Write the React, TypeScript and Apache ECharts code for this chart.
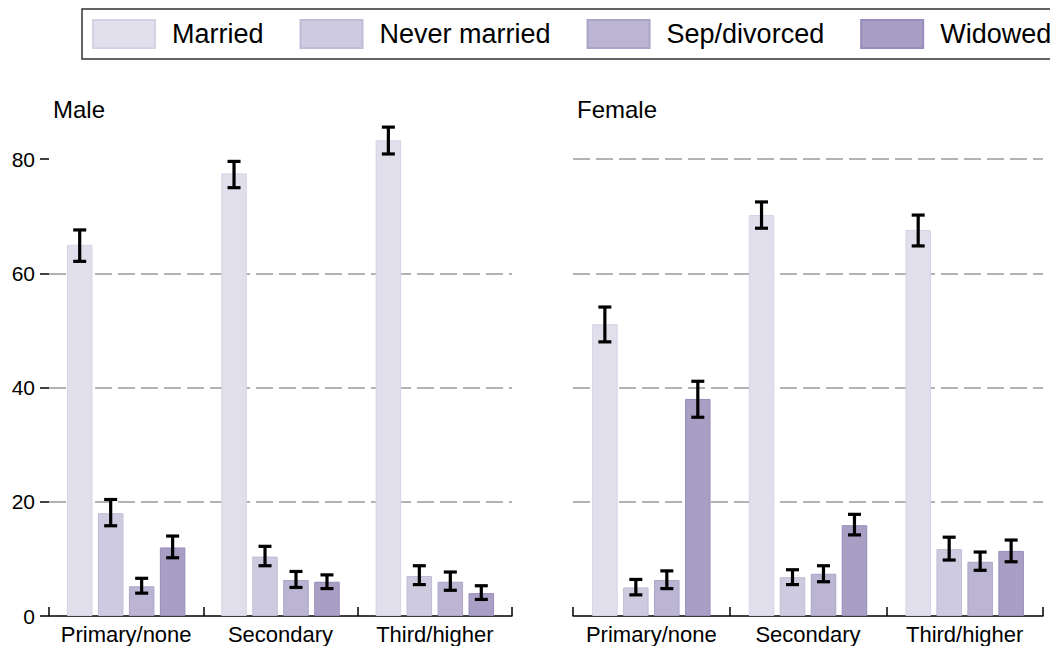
import React, { useEffect, useRef } from "react";
import * as echarts from "echarts";

const categories = ["Primary/none", "Secondary", "Third/higher"];
const statuses = ["Married", "Never married", "Sep/divorced", "Widowed"];
const panelTitles = ["Male", "Female"];
const yTicks = [0, 20, 40, 60, 80];

// Male: values, lower and upper CI bounds per status (rows) and category (cols)
const maleValues = [
  [65.0, 77.5, 83.3],
  [18.0, 10.4, 7.0],
  [5.2, 6.3, 6.0],
  [12.0, 6.0, 4.0],
];
const maleLow = [
  [62.1, 75.0, 80.9],
  [15.8, 8.8, 5.5],
  [4.0, 5.0, 4.5],
  [10.2, 4.8, 2.9],
];
const maleHigh = [
  [67.6, 79.6, 85.6],
  [20.4, 12.2, 8.8],
  [6.6, 7.8, 7.7],
  [14.0, 7.2, 5.3],
];

// Female
const femaleValues = [
  [51.1, 70.2, 67.6],
  [5.0, 6.8, 11.7],
  [6.3, 7.4, 9.5],
  [38.0, 15.9, 11.4],
];
const femaleLow = [
  [48.0, 67.9, 64.8],
  [3.7, 5.5, 9.8],
  [4.8, 6.0, 8.0],
  [34.8, 14.2, 9.5],
];
const femaleHigh = [
  [54.1, 72.5, 70.2],
  [6.4, 8.1, 13.8],
  [7.9, 8.8, 11.2],
  [41.1, 17.8, 13.3],
];

const colors = ["#e2dfec", "#cecadf", "#bbb5d3", "#a99fc5"];
const borders = ["#d6d2e6", "#c0bbd6", "#aba4c8", "#978cbb"];

const FONT = "'Liberation Sans', Arial, Helvetica, sans-serif";
const BAR_W = 25.5;
const BAR_GAP = 0.215;
const STEP = BAR_W * (1 + BAR_GAP);

export default function App() {
  const ref = useRef<HTMLDivElement>(null);

  useEffect(() => {
    if (!ref.current) return;
    const chart = echarts.init(ref.current, null, { renderer: "svg" });

    const panels = [
      { values: maleValues, low: maleLow, high: maleHigh },
      { values: femaleValues, low: femaleLow, high: femaleHigh },
    ];

    const series: any[] = [];
    panels.forEach((p, pi) => {
      statuses.forEach((s, k) => {
        series.push({
          type: "bar",
          name: s,
          xAxisIndex: pi,
          yAxisIndex: pi,
          barWidth: BAR_W,
          barGap: BAR_GAP * 100 + "%",
          itemStyle: { color: colors[k], borderColor: borders[k], borderWidth: 1 },
          data: p.values[k],
        });
      });
      const errData: number[][] = [];
      statuses.forEach((_, k) => {
        categories.forEach((_, c) => {
          errData.push([c, p.low[k][c], p.high[k][c], k]);
        });
      });
      series.push({
        type: "custom",
        name: "err" + pi,
        xAxisIndex: pi,
        yAxisIndex: pi,
        z: 10,
        encode: { x: 0, y: [1, 2] },
        data: errData,
        renderItem: (params: any, api: any) => {
          const c = api.value(0);
          const lo = api.coord([c, api.value(1)]);
          const hi = api.coord([c, api.value(2)]);
          const k = api.value(3);
          const x = lo[0] + (k - 1.5) * STEP;
          const hw = 6.5;
          const style = { stroke: "#000", lineWidth: 3.2, fill: "none" };
          return {
            type: "group",
            children: [
              { type: "line", shape: { x1: x, y1: lo[1], x2: x, y2: hi[1] }, style },
              { type: "line", shape: { x1: x - hw, y1: lo[1], x2: x + hw, y2: lo[1] }, style },
              { type: "line", shape: { x1: x - hw, y1: hi[1], x2: x + hw, y2: hi[1] }, style },
            ],
          };
        },
      });
    });

    const xAxisBase = {
      type: "category",
      data: categories,
      axisLine: { show: true, lineStyle: { color: "#000", width: 1.5 } },
      axisTick: { show: true, inside: true, length: 9, lineStyle: { color: "#000", width: 1.5 } },
      axisLabel: { color: "#000", fontSize: 22, fontFamily: FONT, margin: 7, interval: 0, hideOverlap: false },
    };
    const splitLine = {
      show: true,
      showMinLine: false,
      showMaxLine: false,
      lineStyle: { color: "#9a9a9a", width: 1.5, type: [17, 6] },
    };

    chart.setOption({
      animation: false,
      textStyle: { fontFamily: FONT },
      title: [
        { text: panelTitles[0], left: 53, top: 97, padding: 0, textStyle: { fontSize: 24, fontWeight: "normal", color: "#000", fontFamily: FONT } },
        { text: panelTitles[1], left: 577, top: 97, padding: 0, textStyle: { fontSize: 24, fontWeight: "normal", color: "#000", fontFamily: FONT } },
      ],
      legend: {
        data: statuses,
        left: 82,
        top: 9,
        width: 1100,
        padding: [10, 40, 10, 10],
        itemWidth: 62,
        itemHeight: 28,
        itemGap: 36,
        icon: "rect",
        borderColor: "#333",
        borderWidth: 1.5,
        selectedMode: false,
        textStyle: { fontSize: 27, color: "#000", fontFamily: FONT, padding: [0, 0, 0, 12], lineHeight: 30 },
      },
      grid: [
        { left: 49, width: 463, top: 102, bottom: 30 },
        { left: 573, width: 470, top: 102, bottom: 30 },
      ],
      xAxis: [
        { ...xAxisBase, gridIndex: 0 },
        { ...xAxisBase, gridIndex: 1 },
      ],
      yAxis: [
        {
          type: "value",
          gridIndex: 0,
          min: 0,
          max: 90,
          interval: 20,
          axisLine: { show: false },
          axisTick: { show: true, length: 9, customValues: yTicks, lineStyle: { color: "#000", width: 1.5 } },
          axisLabel: { color: "#000", fontSize: 21, fontFamily: FONT, margin: 14, customValues: yTicks },
          splitLine,
        },
        {
          type: "value",
          gridIndex: 1,
          min: 0,
          max: 90,
          interval: 20,
          axisLine: { show: false },
          axisTick: { show: false },
          axisLabel: { show: false },
          splitLine,
        },
      ],
      series,
    });

    return () => chart.dispose();
  }, []);

  return (
    <div
      ref={ref}
      style={{ position: "fixed", left: 0, top: 0, width: 1050, height: 646, background: "#fff" }}
    />
  );
}
